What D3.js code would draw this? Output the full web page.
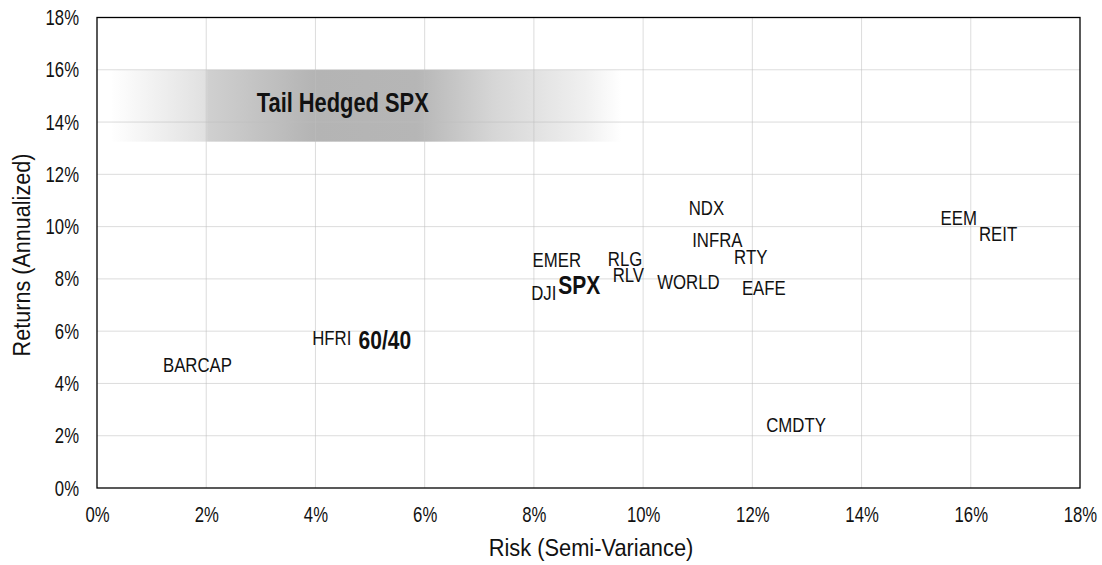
<!DOCTYPE html>
<html>
<head>
<meta charset="utf-8">
<script src="https://cdn.jsdelivr.net/npm/d3@7"></script>
<style>
body{margin:0;background:#fff;}
text{font-family:"Liberation Sans Narrow","Arial Narrow","Liberation Sans",Arial,sans-serif;}
</style>
</head>
<body>
<svg id="chart" width="1102" height="565"></svg>
<script>
// data
var names   = ['NDX','INFRA','RTY','EMER','RLG','RLV','WORLD','EAFE','DJI','SPX','EEM','REIT','HFRI','60/40','BARCAP','CMDTY'];
var risk    = [11.16, 11.36, 11.97, 8.42, 9.67, 9.73, 10.83, 12.21, 8.18, 8.83, 15.78, 16.5, 4.30, 5.27, 1.84, 12.80];
var returns = [10.71, 9.49, 8.85, 8.72, 8.76, 8.15, 7.89, 7.66, 7.46, 7.74, 10.32, 9.72, 5.73, 5.64, 4.71, 2.41];
var bold    = ['SPX','60/40'];
var ticks   = [0,2,4,6,8,10,12,14,16,18];

// tail hedged band
var tailLabel = 'Tail Hedged SPX';
var tailX = [0.25, 9.6];
var tailY = [13.25, 16];

var svg = d3.select('#chart');
var pLeft = 97, pRight = 1080, pTop = 17.5, pBottom = 488;
var narrow = 0.84;

var x = d3.scaleLinear().domain([0,18]).range([pLeft,pRight]);
var y = d3.scaleLinear().domain([0,18]).range([pBottom,pTop]);

// gradient for band
var grad = svg.append('defs').append('linearGradient')
	.attr('id','tailGrad')
	.attr('x1','0%').attr('x2','100%').attr('y1','0%').attr('y2','0%');
grad.append('stop').attr('offset','0%').attr('stop-color','#ffffff');
grad.append('stop').attr('offset','18.8%').attr('stop-color','#e0e0e0');
grad.append('stop').attr('offset','19%').attr('stop-color','#d0d0d0');
grad.append('stop').attr('offset','40%').attr('stop-color','#b4b4b4');
grad.append('stop').attr('offset','60%').attr('stop-color','#b6b6b6');
grad.append('stop').attr('offset','75%').attr('stop-color','#d6d6d6');
grad.append('stop').attr('offset','93%').attr('stop-color','#f0f0f0');
grad.append('stop').attr('offset','100%').attr('stop-color','#ffffff');

svg.append('rect')
	.attr('x',x(tailX[0]))
	.attr('y',y(tailY[1]))
	.attr('width',x(tailX[1])-x(tailX[0]))
	.attr('height',y(tailY[0])-y(tailY[1]))
	.attr('fill','url(#tailGrad)');

// grid
svg.selectAll('.vgrid').data(ticks.slice(1,-1)).enter()
	.append('line')
	.attr('class','vgrid')
	.attr('x1',function(d){return x(d);})
	.attr('x2',function(d){return x(d);})
	.attr('y1',pTop).attr('y2',pBottom)
	.attr('stroke','#bfbfbf').attr('stroke-opacity',0.55).attr('stroke-width',1);

svg.selectAll('.hgrid').data(ticks.slice(1,-1)).enter()
	.append('line')
	.attr('class','hgrid')
	.attr('y1',function(d){return y(d);})
	.attr('y2',function(d){return y(d);})
	.attr('x1',pLeft).attr('x2',pRight)
	.attr('stroke','#bfbfbf').attr('stroke-opacity',0.55).attr('stroke-width',1);

svg.append('text')
	.attr('transform','translate('+x(4.5)+',111.5) scale(0.81,1)')
	.text(tailLabel)
	.attr('font-size','27px')
	.attr('font-weight','bold')
	.attr('fill','#111')
	.style('text-anchor','middle');

// frame
svg.append('rect')
	.attr('x',pLeft).attr('y',pTop)
	.attr('width',pRight-pLeft).attr('height',pBottom-pTop)
	.attr('fill','none').attr('stroke','#000').attr('stroke-width',1.3);

// axes
var xAxis = svg.append('g')
	.attr('transform','translate(0,522)')
	.call(d3.axisBottom(x).tickValues(ticks).tickSize(0).tickPadding(0).tickFormat(function(d){return d+'%';}));
var yAxis = svg.append('g')
	.attr('transform','translate('+(pLeft-18)+',0)')
	.call(d3.axisLeft(y).tickValues(ticks).tickSize(0).tickPadding(0).tickFormat(function(d){return d+'%';}));
xAxis.select('.domain').remove();
yAxis.select('.domain').remove();
xAxis.selectAll('.tick text').attr('dy','0').attr('y',0);
svg.selectAll('.tick text')
	.attr('font-family','"Liberation Sans Narrow","Arial Narrow","Liberation Sans",Arial,sans-serif')
	.attr('font-size','22px')
	.attr('fill','#111')
	.attr('transform','scale(0.76,1)');

svg.append('text')
	.attr('transform','translate(591,556) scale(0.91,1)')
	.text('Risk (Semi-Variance)')
	.attr('font-size','24px')
	.attr('fill','#111')
	.style('text-anchor','middle');

svg.append('text')
	.attr('transform','translate(22,255) rotate(-90) scale(0.9,1)')
	.text('Returns (Annualized)')
	.attr('font-size','24px')
	.attr('fill','#111')
	.style('text-anchor','middle')
	.style('dominant-baseline','central');

// point labels
svg.selectAll('.lbl').data(names).enter()
	.append('text')
	.attr('class','lbl')
	.attr('transform',function(d,i){return 'translate('+x(risk[i])+','+y(returns[i])+') scale('+narrow+',1)';})
	.text(function(d){return d;})
	.attr('font-size',function(d){return bold.indexOf(d)>=0 ? '25px' : '20px';})
	.attr('font-weight',function(d){return bold.indexOf(d)>=0 ? 'bold' : 'normal';})
	.attr('fill','#111')
	.style('text-anchor','middle')
	.style('dominant-baseline','central');
</script>
</body>
</html>
